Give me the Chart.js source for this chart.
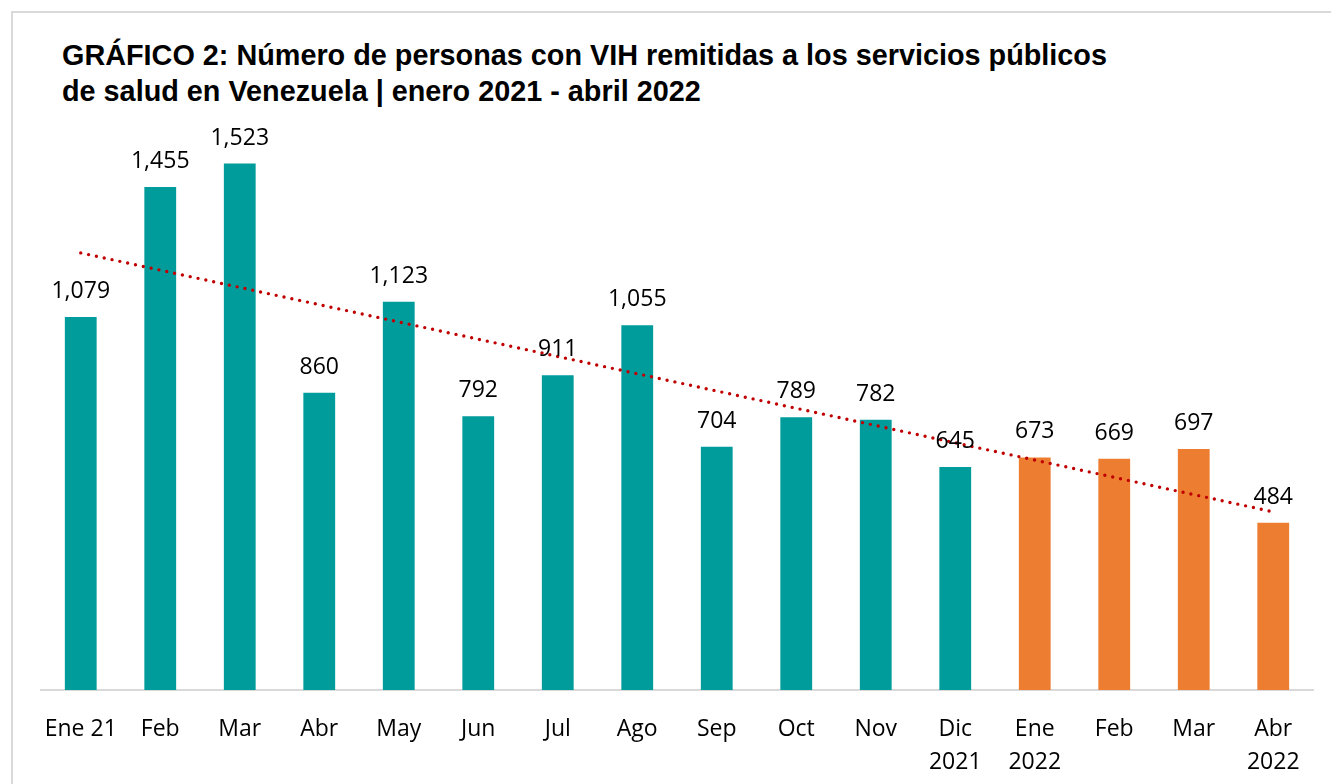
<!DOCTYPE html>
<html>
<head>
<meta charset="utf-8">
<script src="https://cdn.jsdelivr.net/npm/chart.js@4"></script>
<style>
  html, body { margin: 0; padding: 0; background: #fff; }
  #wrap { position: relative; width: 1331px; height: 784px; overflow: hidden; }
  #frame { position: absolute; left: 11px; top: 11px; width: 1400px; height: 900px;
           border-top: 2px solid #d9d9d9; border-left: 2px solid #d9d9d9; box-sizing: border-box; }
  #title { position: absolute; left: 62px; top: 37px; font-family: "Liberation Sans", Arial, sans-serif;
           font-weight: bold; font-size: 28.8px; line-height: 36px; color: #000; white-space: nowrap; }
  canvas { position: absolute; left: 0; top: 0; }
</style>
</head>
<body>
<div id="wrap">
  <div id="frame"></div>
  <div id="title">GRÁFICO 2: Número de personas con VIH remitidas a los servicios públicos<br>de salud en Venezuela | enero 2021 - abril 2022</div>
  <canvas id="c" width="1331" height="784"></canvas>
</div>
<script>
const categories = [
  ["Ene 21"], ["Feb"], ["Mar"], ["Abr"], ["May"], ["Jun"], ["Jul"], ["Ago"],
  ["Sep"], ["Oct"], ["Nov"], ["Dic", "2021"], ["Ene", "2022"], ["Feb"], ["Mar"], ["Abr", "2022"]
];
const years = [2021, 2021, 2021, 2021, 2021, 2021, 2021, 2021, 2021, 2021, 2021, 2021, 2022, 2022, 2022, 2022];
const personas = [1079, 1455, 1523, 860, 1123, 792, 911, 1055, 704, 789, 782, 645, 673, 669, 697, 484];

// Linear trend (least squares) of the series, as in the original chart
function linearTrend(vals) {
  const n = vals.length;
  let sx = 0, sy = 0, sxy = 0, sxx = 0;
  vals.forEach((v, i) => { const x = i + 1; sx += x; sy += v; sxy += x * v; sxx += x * x; });
  const b = (n * sxy - sx * sy) / (n * sxx - sx * sx);
  const a = (sy - b * sx) / n;
  return vals.map((_, i) => a + b * (i + 1));
}
const tendencia = linearTrend(personas);

const TEAL = "#009B9B";
const ORANGE = "#ED7D31";
const FONT = "'Open Sans', sans-serif";

const labelPlugin = {
  id: "barLabels",
  afterDatasetsDraw(chart) {
    const ctx = chart.ctx;
    const meta = chart.getDatasetMeta(1);
    ctx.save();
    ctx.font = "23px " + FONT;
    ctx.fillStyle = "#000";
    ctx.textAlign = "center";
    ctx.textBaseline = "alphabetic";
    meta.data.forEach((bar, i) => {
      ctx.fillText(personas[i].toLocaleString("en-US"), bar.x, bar.y - 19);
    });
    ctx.restore();
  }
};

new Chart(document.getElementById("c"), {
  data: {
    labels: categories,
    datasets: [
      {
        type: "line",
        data: tendencia,
        borderColor: "#C00000",
        borderWidth: 3.4,
        borderDash: [0, 8],
        borderCapStyle: "round",
        pointRadius: 0,
        fill: false,
        order: 0
      },
      {
        type: "bar",
        data: personas,
        backgroundColor: ctx => years[ctx.dataIndex] === 2021 ? TEAL : ORANGE,
        categoryPercentage: 1.0,
        barPercentage: 0.4,
        order: 1
      }
    ]
  },
  options: {
    responsive: false,
    animation: false,
    devicePixelRatio: 1,
    layout: { padding: { left: 41, right: 18, top: 137, bottom: 0 } },
    plugins: { legend: { display: false }, tooltip: { enabled: false }, title: { display: false } },
    scales: {
      x: {
        grid: { display: false, drawTicks: false },
        border: { display: true, color: "#d9d9d9", width: 2 },
        ticks: {
          autoSkip: false, maxRotation: 0, minRotation: 0,
          color: "#000", padding: 23,
          font: { family: FONT, size: 23, lineHeight: 1.43 }
        },
        afterFit(scale) { scale.height = 94; }
      },
      y: {
        display: false,
        min: 0, max: 1600
      }
    }
  },
  plugins: [labelPlugin]
});
</script>
</body>
</html>
